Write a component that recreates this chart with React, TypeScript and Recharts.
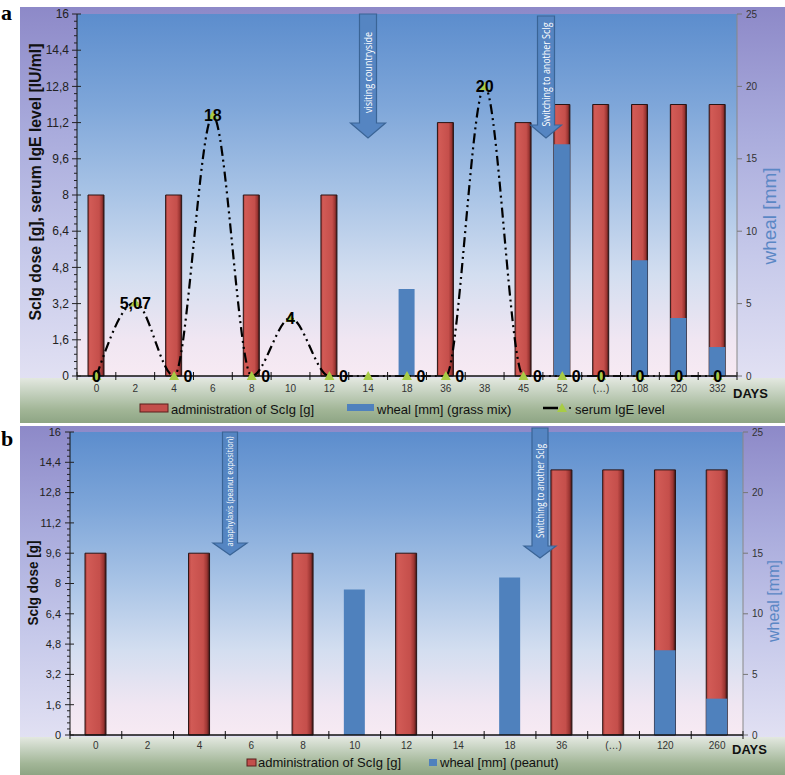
// @ts-nocheck
import React from "react";
import { ComposedChart, Bar, Line, XAxis, YAxis, LabelList } from "recharts";

// panel a
const daysA = ["0", "2", "4", "6", "8", "10", "12", "14", "18", "36", "38", "45", "52", "(…)", "108", "220", "332"];
const doseA = [8, 0, 8, 0, 8, 0, 8, 0, 0, 11.2, 0, 11.2, 12, 12, 12, 12, 12];
const whealA = [0, 0, 0, 0, 0, 0, 0, 0, 6, 0, 0, 0, 16, 0, 8, 4, 2];
const igeA = [0, 5.07, 0, 18, 0, 4, 0, 0, 0, 0, 20, 0, 0, 0, 0, 0, 0];
const igeLabelsA = ["0", "5,07", "0", "18", "0", "4", "0", "", "0", "0", "20", "0", "0", "0", "0", "0", "0"];

// panel b
const daysB = ["0", "2", "4", "6", "8", "10", "12", "14", "18", "36", "(…)", "120", "260"];
const doseB = [9.6, 0, 9.6, 0, 9.6, 0, 9.6, 0, 0, 14, 14, 14, 14];
const whealB = [0, 0, 0, 0, 0, 12, 0, 0, 13, 0, 0, 7, 3];

const doseTicks = [0, 1.6, 3.2, 4.8, 6.4, 8, 9.6, 11.2, 12.8, 14.4, 16];
const whealTicks = [0, 5, 10, 15, 20, 25];

const FONT = "'Liberation Sans', Arial, sans-serif";
const BLUE = "#4f81bd";

// minor ticks every 0.32 on the dose axis
const minorTicks = Array.from({ length: 51 }, (_, i) => +(i * 0.32).toFixed(2));

const dataA = daysA.map((d, i) => ({
  day: d,
  dose: doseA[i] || null,
  wheal: whealA[i] || null,
  ige: igeA[i],
  label: igeLabelsA[i],
}));

const dataB = daysB.map((d, i) => ({
  day: d,
  dose: doseB[i] || null,
  wheal: whealB[i] || null,
}));

function fmt(v) {
  return String(+v.toFixed(1)).replace(".", ",");
}

function leftTick(fontSize, gap) {
  return (p) => {
    const { x, y, payload } = p;
    const major = doseTicks.some((t) => Math.abs(t - payload.value) < 0.01);
    return (
      <g>
        <line x1={x - (major ? 5 : 3)} x2={x + (major ? 4 : 0)} y1={y} y2={y} stroke="#222" />
        {major ? (
          <text x={x - gap} y={y} dy="0.35em" textAnchor="end" fontSize={fontSize} fill="#222" fontFamily={FONT}>
            {fmt(payload.value)}
          </text>
        ) : null}
      </g>
    );
  };
}

function xTick(count, plotW, labelDy) {
  const half = plotW / count / 2;
  return (p) => {
    const { x, y, payload, index } = p;
    return (
      <g>
        <line x1={x - half} x2={x - half} y1={y - 4} y2={y + 4} stroke="#111" />
        {index === count - 1 ? <line x1={x + half} x2={x + half} y1={y - 4} y2={y + 4} stroke="#111" /> : null}
        <text x={x} y={y + labelDy} textAnchor="middle" fontSize={10} fill="#333" fontFamily={FONT}>
          {payload.value}
        </text>
      </g>
    );
  };
}

const triangle = (p) => {
  const { cx, cy, index } = p;
  if (cx == null || cy == null) return null;
  return (
    <polygon
      key={`tri-${index}`}
      points={`${cx},${cy - 5} ${cx - 5},${cy + 4} ${cx + 5},${cy + 4}`}
      fill="#a8cc45"
    />
  );
};

const igeLabel = (p) => {
  const { x, y, value, index } = p;
  if (!value) return null;
  const shift = value === "0" && index > 0 && index < 13 ? 14 : 0;
  return (
    <text x={x + shift} y={y} dy={6} textAnchor="middle" fontSize={16} fontWeight="bold" fill="#000" fontFamily={FONT}>
      {value}
    </text>
  );
};

function RedGrad({ id }) {
  return (
    <defs>
      <linearGradient id={id} x1="0" y1="0" x2="1" y2="0">
        <stop offset="0%" stopColor="#a83a37" />
        <stop offset="12%" stopColor="#d25b56" />
        <stop offset="70%" stopColor="#c54f4b" />
        <stop offset="88%" stopColor="#9b3532" />
        <stop offset="100%" stopColor="#3a1515" />
      </linearGradient>
    </defs>
  );
}

function Arrow({ cx, top, shaftBottom, tip, w, hw, text, textLen, fontSize }) {
  const d = `M${cx - w / 2},${top} L${cx + w / 2},${top} L${cx + w / 2},${shaftBottom} L${cx + hw / 2},${shaftBottom} L${cx},${tip} L${cx - hw / 2},${shaftBottom} L${cx - w / 2},${shaftBottom} Z`;
  const cy = (top + shaftBottom) / 2 + 4;
  return (
    <g>
      <path d={d} fill="#5585c2" stroke="#3a6496" strokeWidth={1.2} />
      <text
        transform={`translate(${cx},${cy}) rotate(-90)`}
        textAnchor="middle"
        dy="0.35em"
        fontSize={fontSize}
        fill="#fff"
        fontFamily="'Open Sans', sans-serif"
        textLength={textLen}
        lengthAdjust="spacingAndGlyphs"
      >
        {text}
      </text>
    </g>
  );
}

const abs = (l, t, w, h, bg) => ({ position: "absolute", left: l, top: t, width: w, height: h, background: bg });

const lavender = "linear-gradient(to bottom, #8d89c8 0%, #a9abdc 30%, #c6c9ea 60%, #e2e1f3 90%)";
const plotBg = "linear-gradient(to bottom, #5c8dcd 0%, #7ea6d9 25%, #a9c4e6 50%, #d3def0 72%, #f0e6f2 90%, #f7eaf3 100%)";
const greenBg = "linear-gradient(to bottom, #e3e8e0 0%, #c2cfbc 35%, #a2b697 70%, #8ea584 100%)";

export default function App() {
  return (
    <div style={{ position: "absolute", left: 0, top: 0, width: 785, height: 775, background: "#fff", overflow: "hidden" }}>
      {/* backgrounds */}
      <div style={abs(20, 7, 765, 416, lavender)} />
      <div style={abs(77, 14, 660, 362, plotBg)} />
      <div style={abs(20, 378, 765, 45, greenBg)} />
      <div style={abs(20, 426, 765, 349, lavender)} />
      <div style={abs(70, 432, 673, 303, plotBg)} />
      <div style={abs(20, 737, 765, 38, greenBg)} />

      {/* panel a */}
      <div style={{ position: "absolute", left: 20, top: 7 }}>
        <ComposedChart width={765} height={411} data={dataA} margin={{ top: 7, right: 0, bottom: 0, left: 0 }} barGap={-16} barSize={16}>
          <RedGrad id="redA" />
          <XAxis
            dataKey="day"
            xAxisId={0}
            height={42}
            interval={0}
            tickSize={0}
            tickMargin={0}
            tickLine={false}
            axisLine={{ stroke: "#111", strokeWidth: 1.5 }}
            tick={xTick(17, 660, 16)}
          />
          <YAxis
            yAxisId="left"
            domain={[0, 16]}
            ticks={minorTicks}
            interval={0}
            width={57}
            tickSize={0}
            tickMargin={0}
            tickLine={false}
            axisLine={{ stroke: "#111" }}
            tick={leftTick(12, 8)}
          />
          <YAxis
            yAxisId="right"
            orientation="right"
            domain={[0, 25]}
            ticks={whealTicks}
            interval={0}
            width={48}
            tickSize={5}
            tickMargin={4}
            axisLine={{ stroke: "#888" }}
            tickLine={{ stroke: "#777" }}
            tick={{ fontSize: 10, fill: "#333", fontFamily: FONT }}
          />
          <Bar yAxisId="left" dataKey="dose" fill="url(#redA)" stroke="#2a1414" strokeWidth={1} isAnimationActive={false} />
          <Bar yAxisId="right" dataKey="wheal" fill={BLUE} isAnimationActive={false} />
          <Line
            yAxisId="right"
            dataKey="ige"
            type="monotone"
            stroke="#000"
            strokeWidth={2.2}
            strokeDasharray="10 4 2 4 2 4"
            dot={triangle}
            activeDot={false}
            isAnimationActive={false}
          >
            <LabelList dataKey="label" content={igeLabel} />
          </Line>
        </ComposedChart>
      </div>

      {/* panel b */}
      <div style={{ position: "absolute", left: 20, top: 426 }}>
        <ComposedChart width={765} height={348} data={dataB} margin={{ top: 6, right: 0, bottom: 0, left: 0 }} barGap={-21} barSize={21}>
          <RedGrad id="redB" />
          <XAxis
            dataKey="day"
            height={39}
            interval={0}
            tickSize={0}
            tickMargin={0}
            tickLine={false}
            axisLine={{ stroke: "#111", strokeWidth: 1.5 }}
            tick={xTick(13, 673, 14)}
          />
          <YAxis
            yAxisId="left"
            domain={[0, 16]}
            ticks={minorTicks}
            interval={0}
            width={50}
            tickSize={0}
            tickMargin={0}
            tickLine={false}
            axisLine={{ stroke: "#111" }}
            tick={leftTick(11, 9)}
          />
          <YAxis
            yAxisId="right"
            orientation="right"
            domain={[0, 25]}
            ticks={whealTicks}
            interval={0}
            width={42}
            tickSize={5}
            tickMargin={4}
            axisLine={{ stroke: "#888" }}
            tickLine={{ stroke: "#777" }}
            tick={{ fontSize: 10, fill: "#333", fontFamily: FONT }}
          />
          <Bar yAxisId="left" dataKey="dose" fill="url(#redB)" stroke="#2a1414" strokeWidth={1} isAnimationActive={false} />
          <Bar yAxisId="right" dataKey="wheal" fill={BLUE} isAnimationActive={false} />
        </ComposedChart>
      </div>

      {/* annotations */}
      <svg width={785} height={775} style={{ position: "absolute", left: 0, top: 0, pointerEvents: "none" }}>
        <text x={1} y={20} fontSize={22} fontWeight="bold" fontFamily="'Liberation Serif', serif">a</text>
        <text x={1} y={446} fontSize={22} fontWeight="bold" fontFamily="'Liberation Serif', serif">b</text>

        <text transform="translate(35,182) rotate(-90)" textAnchor="middle" dy="0.35em" fontSize={16} fontWeight="bold"
          fontFamily={FONT} fill="#111" textLength={277} lengthAdjust="spacingAndGlyphs">
          ScIg dose  [g], serum  IgE level [IU/ml]
        </text>
        <text transform="translate(770,216) rotate(-90)" textAnchor="middle" dy="0.35em" fontSize={18}
          fontFamily={FONT} fill="#5b87c5" textLength={97} lengthAdjust="spacingAndGlyphs">
          wheal  [mm]
        </text>
        <text transform="translate(33,583) rotate(-90)" textAnchor="middle" dy="0.35em" fontSize={14} fontWeight="bold"
          fontFamily={FONT} fill="#111" textLength={85} lengthAdjust="spacingAndGlyphs">
          ScIg dose  [g]
        </text>
        <text transform="translate(773,601) rotate(-90)" textAnchor="middle" dy="0.35em" fontSize={16}
          fontFamily={FONT} fill="#5b87c5" textLength={82} lengthAdjust="spacingAndGlyphs">
          wheal  [mm]
        </text>

        <text x={733} y={398} fontSize={13} fontWeight="bold" fontFamily={FONT} fill="#111">DAYS</text>
        <text x={732} y={754} fontSize={13} fontWeight="bold" fontFamily={FONT} fill="#111">DAYS</text>

        {/* legend a */}
        <rect x={140} y={404} width={28} height={8} fill="#c34f4b" stroke="#5a1f1d" />
        <text x={171} y={413.5} fontSize={13} fontFamily={FONT} fill="#111">administration of ScIg [g]</text>
        <rect x={347} y={404} width={27} height={7} fill={BLUE} />
        <text x={377} y={413.5} fontSize={13} fontFamily={FONT} fill="#111">wheal [mm] (grass mix)</text>
        <line x1={543} x2={558} y1={408} y2={408} stroke="#000" strokeWidth={2.5} />
        <polygon points="562,403 557,412 567,412" fill="#a8cc45" />
        <circle cx={570} cy={408} r={1} fill="#000" />
        <text x={575} y={413.5} fontSize={13} fontFamily={FONT} fill="#111">serum IgE level</text>

        {/* legend b */}
        <rect x={247} y={759} width={9} height={7} fill="#c34f4b" stroke="#5a1f1d" />
        <text x={258} y={767} fontSize={13} fontFamily={FONT} fill="#111">administration of ScIg [g]</text>
        <rect x={429} y={759} width={8} height={7} fill={BLUE} />
        <text x={440} y={767} fontSize={13} fontFamily={FONT} fill="#111">wheal [mm] (peanut)</text>

        {/* arrows */}
        <Arrow cx={368} top={14} shaftBottom={123} tip={138} w={17} hw={35} text="visiting countryside" textLen={81} fontSize={10} />
        <Arrow cx={546} top={16} shaftBottom={125} tip={138} w={17} hw={31} text="Switching to another ScIg" textLen={104} fontSize={11} />
        <Arrow cx={230} top={432} shaftBottom={543} tip={555} w={15} hw={34} text="anaphylaxis (peanut exposition)" textLen={110} fontSize={9.5} />
        <Arrow cx={540} top={428} shaftBottom={546} tip={558} w={16} hw={32} text="Switching to another ScIg" textLen={94} fontSize={10} />
      </svg>
    </div>
  );
}
